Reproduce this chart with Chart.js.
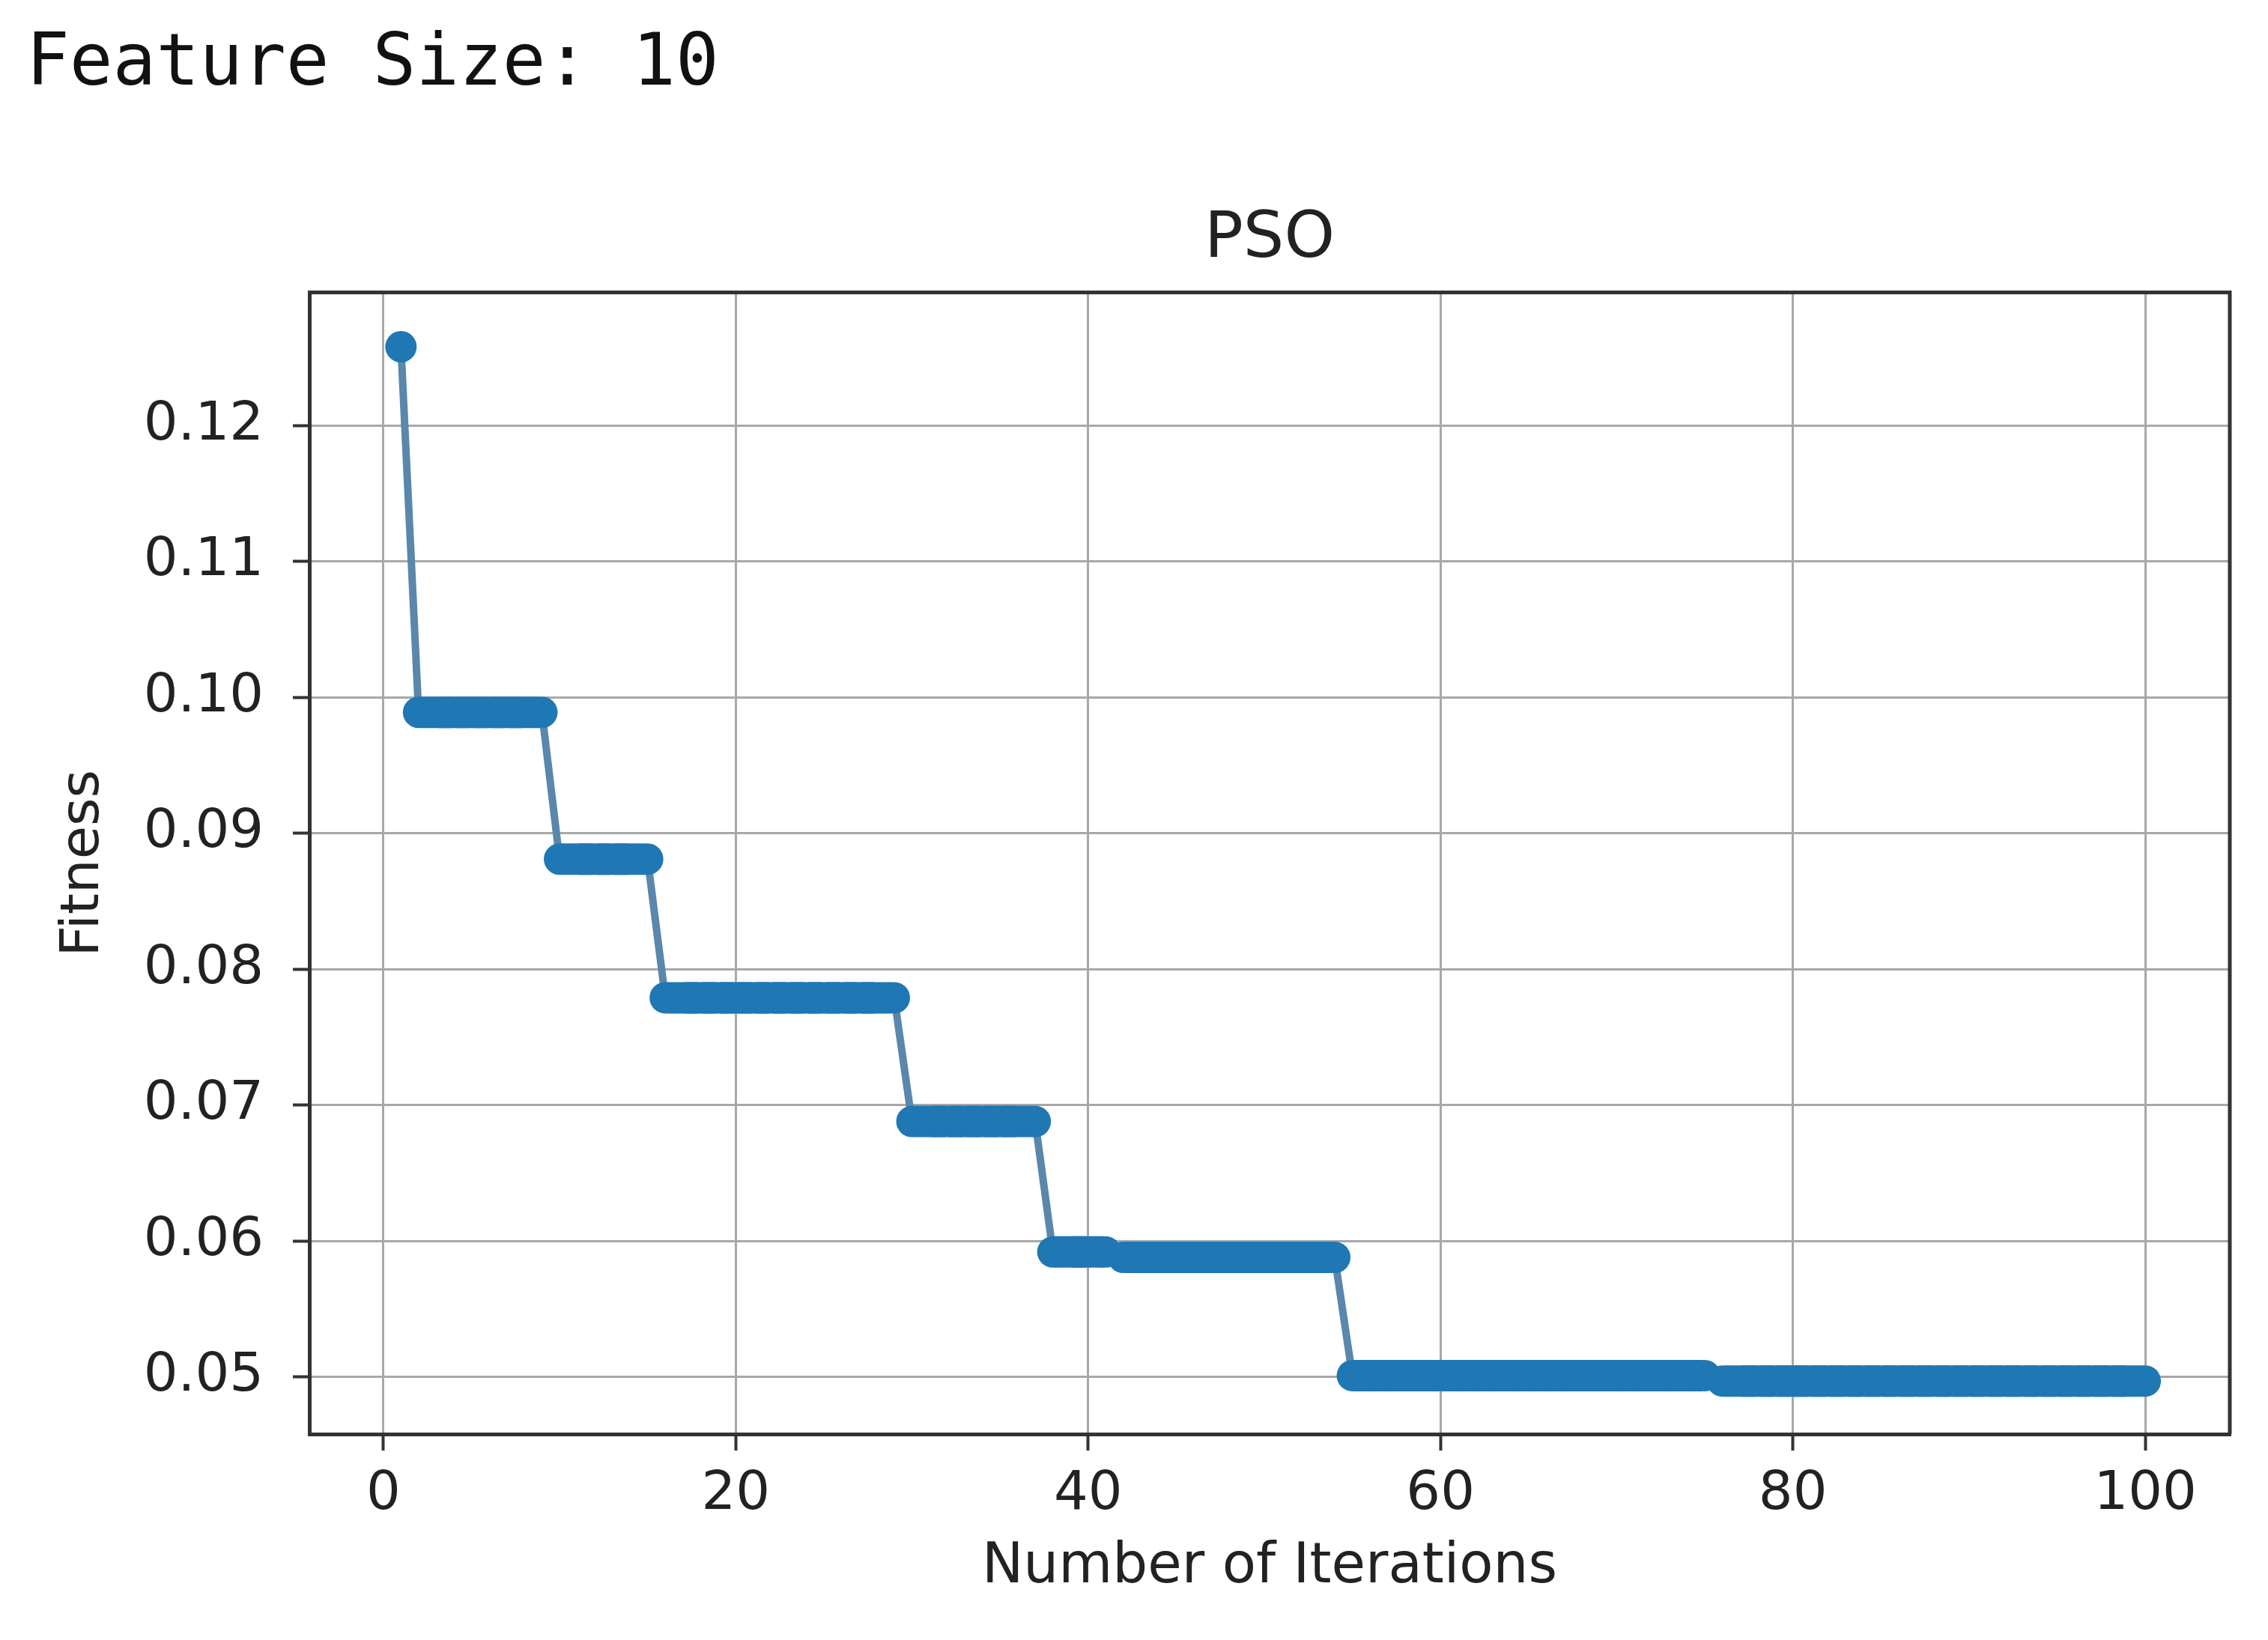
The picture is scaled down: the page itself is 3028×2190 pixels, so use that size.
<!DOCTYPE html>
<html>
<head>
<meta charset="utf-8">
<title>PSO</title>
<script src="https://cdn.jsdelivr.net/npm/chart.js@4.4.1/dist/chart.umd.min.js"></script>
<style>
    html, body { margin: 0; padding: 0; background: #fff; }
    #wrap { width: 3028px; height: 2190px; position: relative; }
</style>
</head>
<body>
<div id="wrap"><canvas id="psoChart"></canvas></div>
<script>
// iterations 1..100
const iterations = [
    1, 2, 3, 4, 5, 6, 7, 8, 9, 10,
    11, 12, 13, 14, 15, 16, 17, 18, 19, 20,
    21, 22, 23, 24, 25, 26, 27, 28, 29, 30,
    31, 32, 33, 34, 35, 36, 37, 38, 39, 40,
    41, 42, 43, 44, 45, 46, 47, 48, 49, 50,
    51, 52, 53, 54, 55, 56, 57, 58, 59, 60,
    61, 62, 63, 64, 65, 66, 67, 68, 69, 70,
    71, 72, 73, 74, 75, 76, 77, 78, 79, 80,
    81, 82, 83, 84, 85, 86, 87, 88, 89, 90,
    91, 92, 93, 94, 95, 96, 97, 98, 99, 100
];

// best fitness per iteration
const fitness = [
    0.1258, 0.0989, 0.0989, 0.0989, 0.0989, 0.0989, 0.0989, 0.0989, 0.0989, 0.0881,
    0.0881, 0.0881, 0.0881, 0.0881, 0.0881, 0.0779, 0.0779, 0.0779, 0.0779, 0.0779,
    0.0779, 0.0779, 0.0779, 0.0779, 0.0779, 0.0779, 0.0779, 0.0779, 0.0779, 0.0688,
    0.0688, 0.0688, 0.0688, 0.0688, 0.0688, 0.0688, 0.0688, 0.0592, 0.0592, 0.0592,
    0.0592, 0.0588, 0.0588, 0.0588, 0.0588, 0.0588, 0.0588, 0.0588, 0.0588, 0.0588,
    0.0588, 0.0588, 0.0588, 0.0588, 0.0501, 0.0501, 0.0501, 0.0501, 0.0501, 0.0501,
    0.0501, 0.0501, 0.0501, 0.0501, 0.0501, 0.0501, 0.0501, 0.0501, 0.0501, 0.0501,
    0.0501, 0.0501, 0.0501, 0.0501, 0.0501, 0.0497, 0.0497, 0.0497, 0.0497, 0.0497,
    0.0497, 0.0497, 0.0497, 0.0497, 0.0497, 0.0497, 0.0497, 0.0497, 0.0497, 0.0497,
    0.0497, 0.0497, 0.0497, 0.0497, 0.0497, 0.0497, 0.0497, 0.0497, 0.0497, 0.0497
];

const xTicks = [0, 20, 40, 60, 80, 100];
const yTicks = [0.05, 0.06, 0.07, 0.08, 0.09, 0.10, 0.11, 0.12];

const FONT = "'DejaVu Sans', 'Liberation Sans', sans-serif";
const MONO = "'DejaVu Sans Mono', 'Liberation Mono', monospace";

const MARKER_R = 21;

// markers inside a flat run are drawn square so the run reads as one thick band,
// the ends of a run keep the round marker
function isRunEdge(i) {
    return i === 0 || i === fitness.length - 1 ||
        fitness[i - 1] !== fitness[i] || fitness[i + 1] !== fitness[i];
}

// top and right spines, matplotlib style box
const frameBox = {
    id: 'frameBox',
    afterDraw(chart) {
        const { ctx, chartArea: a } = chart;
        ctx.save();
        ctx.strokeStyle = '#333';
        ctx.lineWidth = 5;
        ctx.beginPath();
        ctx.moveTo(a.left, a.top);
        ctx.lineTo(a.right, a.top);
        ctx.lineTo(a.right, a.bottom);
        ctx.stroke();
        ctx.restore();
    }
};

const ctx = document.getElementById('psoChart').getContext('2d');
new Chart(ctx, {
    type: 'line',
    data: {
        datasets: [{
            label: 'PSO',
            data: iterations.map((x, i) => ({ x: x, y: fitness[i] })),
            borderColor: '#5a87ab',
            borderWidth: 10,
            backgroundColor: '#1f77b4',
            pointBackgroundColor: '#1f77b4',
            pointBorderWidth: 0,
            pointStyle: c => isRunEdge(c.dataIndex) ? 'circle' : 'rect',
            pointRadius: c => isRunEdge(c.dataIndex) ? MARKER_R : MARKER_R * Math.SQRT2,
            tension: 0,
            fill: false
        }]
    },
    options: {
        responsive: true,
        maintainAspectRatio: false,
        animation: false,
        layout: {
            padding: { left: 35, right: 51, top: 0, bottom: 0 }
        },
        plugins: {
            legend: { display: false },
            tooltip: { enabled: false },
            title: {
                display: true,
                text: 'Feature Size: 10',
                align: 'start',
                color: '#111',
                font: { family: MONO, size: 96, weight: 'normal', lineHeight: 1.2 },
                padding: { top: 30, bottom: 124 }
            },
            subtitle: {
                display: true,
                text: 'PSO',
                fullSize: false,
                color: '#222',
                font: { family: FONT, size: 86, weight: 'normal', lineHeight: 1.2 },
                padding: { top: 0, bottom: 18 }
            }
        },
        scales: {
            x: {
                type: 'linear',
                min: -4.2,
                max: 104.8,
                afterBuildTicks: s => { s.ticks = xTicks.map(v => ({ value: v })); },
                afterFit: s => { s.height = 275; },
                ticks: {
                    color: '#222',
                    padding: 16,
                    maxRotation: 0,
                    font: { family: FONT, size: 72 },
                    callback: v => String(v)
                },
                grid: {
                    color: '#a8a8a8',
                    lineWidth: 3,
                    tickLength: 22,
                    tickColor: '#333',
                    tickWidth: 4
                },
                border: { display: true, color: '#333', width: 5 },
                title: {
                    display: true,
                    text: 'Number of Iterations',
                    color: '#222',
                    font: { family: FONT, size: 74, lineHeight: 1.2 },
                    padding: { top: 0, bottom: 52 }
                }
            },
            y: {
                min: 0.0458,
                max: 0.1298,
                afterBuildTicks: s => { s.ticks = yTicks.map(v => ({ value: v })); },
                afterFit: s => { s.width = 378; },
                ticks: {
                    color: '#222',
                    padding: 39,
                    font: { family: FONT, size: 72 },
                    callback: v => Number(v).toFixed(2)
                },
                grid: {
                    color: '#a8a8a8',
                    lineWidth: 3,
                    tickLength: 22,
                    tickColor: '#333',
                    tickWidth: 4
                },
                border: { display: true, color: '#333', width: 5 },
                title: {
                    display: true,
                    text: 'Fitness',
                    color: '#222',
                    font: { family: FONT, size: 72, lineHeight: 1.2 },
                    padding: { top: 34, bottom: 0 }
                }
            }
        }
    },
    plugins: [frameBox]
});
</script>
</body>
</html>
